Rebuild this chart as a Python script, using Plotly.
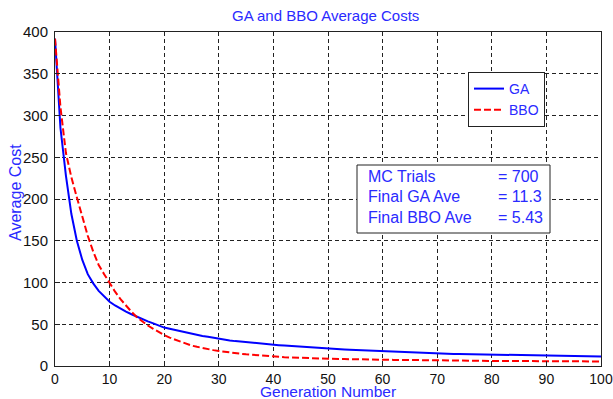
import plotly.graph_objects as go

generations = list(range(0, 101))

ga_cost = [392, 285, 228, 182, 150, 127, 110, 99, 90, 83,
           77, 72.5, 68.5, 65, 62, 59, 56, 53.5, 51, 48.5,
           46, 44.5, 43, 41.5, 40, 38.5, 37.2, 36, 35, 33.8,
           32.2, 31.4, 30.6, 29.8, 29.1, 28.4, 27.7, 27.1, 26.5, 26,
           25.5, 25, 24.5, 24, 23.5, 23.1, 22.7, 22.3, 21.9, 21.5,
           20.8, 20.4, 20.1, 19.8, 19.5, 19.2, 18.9, 18.6, 18.3, 18,
           17.6, 17.3, 17, 16.7, 16.4, 16.1, 15.9, 15.7, 15.5, 15.2,
           14.8, 14.7, 14.6, 14.5, 14.4, 14.3, 14.2, 14, 13.7, 13.6,
           13.5, 13.4, 13.3, 13.2, 13.1, 13, 12.8, 12.5, 12.5, 12.4,
           12.4, 12.3, 12.3, 12.2, 12.2, 12.1, 12.1, 12, 12, 11.7,
           11.3]

bbo_cost = [392, 310, 255, 226, 202, 178, 156, 137, 121, 110,
            99, 89, 80, 72, 65, 58.5, 53, 48.5, 44.5, 40.5,
            37, 34, 31.5, 29, 26.5, 24.5, 23, 21.5, 20.2, 19,
            18, 17, 16.2, 15.4, 14.7, 14, 13.4, 12.8, 12.3, 11.8,
            11.3, 10.9, 10.5, 10.2, 9.9, 9.6, 9.4, 9.2, 9, 8.8,
            8.6, 8.5, 8.4, 8.3, 8.1, 8, 7.9, 7.8, 7.7, 7.6,
            7.5, 7.4, 7.3, 7.3, 7.2, 7.2, 7.1, 6.8, 6.5, 6.5,
            6.4, 6.4, 6.4, 6.3, 6.3, 6.3, 6.2, 6.2, 6.2, 6.2,
            6.1, 6.1, 6.1, 6.1, 6.1, 6.0, 6.0, 6.0, 6.0, 6.0,
            5.6, 5.6, 5.55, 5.55, 5.5, 5.5, 5.5, 5.45, 5.45, 5.45,
            5.43]

x_ticks = [0, 10, 20, 30, 40, 50, 60, 70, 80, 90, 100]
y_ticks = [0, 50, 100, 150, 200, 250, 300, 350, 400]

info_labels = ["MC Trials", "Final GA Ave", "Final BBO Ave"]
info_values = ["= 700", "= 11.3", "= 5.43"]

BLUE = "#0000ff"
TXT = "#2a2aff"
FONT = "Liberation Sans, Arial, sans-serif"

fig = go.Figure()
fig.add_trace(go.Scatter(x=generations, y=ga_cost, mode="lines", name="GA",
                         line=dict(color=BLUE, width=2)))
fig.add_trace(go.Scatter(x=generations, y=bbo_cost, mode="lines", name="BBO",
                         line=dict(color="#ff0000", width=2, dash="7px,3px")))

W, H = 613, 399
L, R, T, B = 55, 12, 32, 33
pw, ph = W - L - R, H - T - B

def px(xp):
    return (xp - L) / pw

def py(yp):
    return (H - B - yp) / ph

axis_common = dict(showline=True, linecolor="#222222", linewidth=1, mirror=True,
                   ticks="inside", ticklen=5, tickcolor="#222222",
                   showgrid=True, gridcolor="#222222", gridwidth=1, griddash="4px,3px",
                   zeroline=False, ticklabeloverflow="allow", automargin=False)

fig.update_xaxes(range=[0, 100], tickvals=x_ticks, ticktext=[str(v) for v in x_ticks],
                 ticklabelstandoff=0, tickfont=dict(family=FONT, size=14, color="#111111"),
                 **axis_common)
fig.update_yaxes(range=[0, 400], tickvals=y_ticks, ticktext=[str(v) for v in y_ticks],
                 ticklabelstandoff=3, tickfont=dict(family=FONT, size=15, color="#111111"),
                 **axis_common)

annotations = [
    dict(text="GA and BBO Average Costs", x=px(325.5), y=py(15), xref="paper", yref="paper",
         showarrow=False, font=dict(family=FONT, size=15, color=TXT), xanchor="center", yanchor="middle"),
    dict(text="Generation Number", x=0.5, y=py(391), xref="paper", yref="paper",
         showarrow=False, font=dict(family=FONT, size=15.5, color=TXT), xanchor="center", yanchor="middle"),
    dict(text="Average Cost", x=px(15), y=py(193), xref="paper", yref="paper", textangle=-90,
         showarrow=False, font=dict(family=FONT, size=16, color=TXT), xanchor="center", yanchor="middle"),
]
row_y = [176.5, 197, 217.5]
for lab, val, yy in zip(info_labels, info_values, row_y):
    annotations.append(dict(text=lab, x=px(366), y=py(yy), xref="paper", yref="paper", showarrow=False,
                            font=dict(family=FONT, size=16, color=TXT), xanchor="left", yanchor="middle"))
    annotations.append(dict(text=val, x=px(496), y=py(yy), xref="paper", yref="paper", showarrow=False,
                            font=dict(family=FONT, size=16, color=TXT), xanchor="left", yanchor="middle"))

fig.update_layout(
    width=W, height=H,
    margin=dict(l=L, r=R, t=T, b=B, pad=0),
    paper_bgcolor="white", plot_bgcolor="white",
    showlegend=True,
    legend=dict(x=px(468), y=py(72), xanchor="left", yanchor="top",
                bordercolor="#222222", borderwidth=1, bgcolor="white",
                font=dict(family=FONT, size=14, color=TXT),
                itemwidth=30, tracegroupgap=0),
    annotations=annotations,
    shapes=[dict(type="rect", xref="paper", yref="paper", x0=px(357), x1=px(550), y0=py(233), y1=py(165),
                 line=dict(color="#222222", width=1), fillcolor="white", layer="above")],
)

fig.write_html("out.html", config={"displayModeBar": False},
               post_script="document.body.style.margin='0';document.body.style.padding='0';")
